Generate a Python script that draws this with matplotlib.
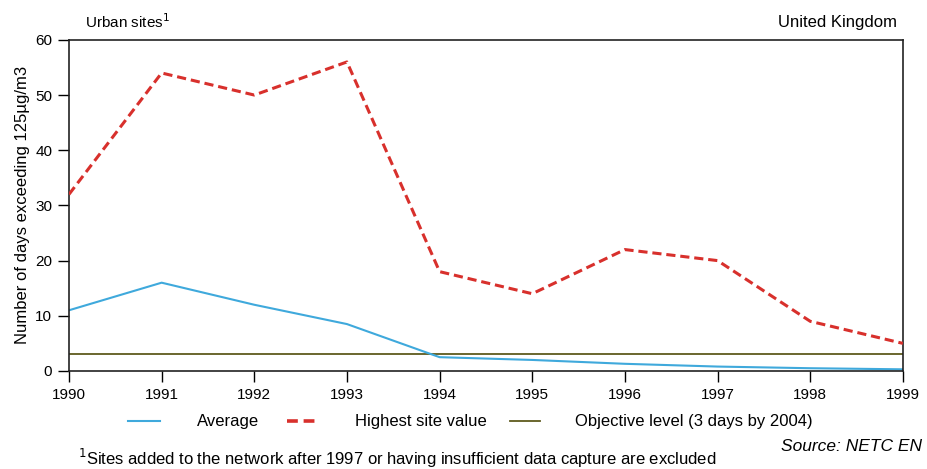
import matplotlib
matplotlib.use("Agg")
import matplotlib.pyplot as plt
from matplotlib.lines import Line2D

plt.rcParams['font.family'] = ['Liberation Sans', 'DejaVu Sans']

years = [1990, 1991, 1992, 1993, 1994, 1995, 1996, 1997, 1998, 1999]
average = [11, 16, 12, 8.5, 2.5, 2, 1.3, 0.8, 0.5, 0.3]
highest = [32, 54, 50, 56, 18, 14, 22, 20, 9, 5]
objective = 3

c_avg = "#3fa9dc"
c_high = "#d8302c"
c_obj = "#5e5a1e"
dash = (0, (3, 1.6))

W, H = 927, 469
fig = plt.figure(figsize=(W / 100, H / 100), dpi=100)
ax = fig.add_axes([0.0744, 0.209, 0.8996, 0.706])

ax.axhline(objective, color=c_obj, linewidth=1.3, zorder=1)
ax.plot(years, average, color=c_avg, linewidth=1.5, zorder=2)
ax.plot(years, highest, color=c_high, linewidth=2.2, linestyle=dash, zorder=3)

ax.set_xlim(1990, 1999)
ax.set_ylim(0, 60)
ax.set_xticks(years)
ax.set_yticks(range(0, 61, 10))
ax.tick_params(direction="out", length=8, width=1, labelsize=11, pad=4, colors="black")
for s in ax.spines.values():
    s.set_linewidth(1.2)
    s.set_color("#222222")

ax.set_ylabel("Number of days exceeding 125µg/m3", fontsize=12, labelpad=4)

fig.text(85 / W, 1 - 22 / H, "Urban sites$^1$", fontsize=11, va="center", ha="left")
fig.text(897 / W, 1 - 22 / H, "United Kingdom", fontsize=12, va="center", ha="right")

# legend row, drawn by hand to match spacing
ly = 1 - 421 / H
legend = [
    (128, 160, c_avg, 1.5, "-", 197, "Average"),
    (287, 320, c_high, 2.6, dash, 355, "Highest site value"),
    (510, 540, c_obj, 1.3, "-", 575, "Objective level (3 days by 2004)"),
]
for x0, x1, col, lw, ls, tx, label in legend:
    fig.add_artist(Line2D([x0 / W, x1 / W], [ly, ly], color=col, linewidth=lw,
                          linestyle=ls, transform=fig.transFigure))
    fig.text(tx / W, ly, label, fontsize=12, va="center", ha="left")

fig.text(78 / W, 1 - 458 / H,
         "$^1$Sites added to the network after 1997 or having insufficient data capture are excluded",
         fontsize=12, va="center", ha="left")
fig.text(922 / W, 1 - 446 / H, "Source: NETC EN", fontsize=12.5,
         style="italic", va="center", ha="right")

fig.savefig("out.png", dpi=100)
